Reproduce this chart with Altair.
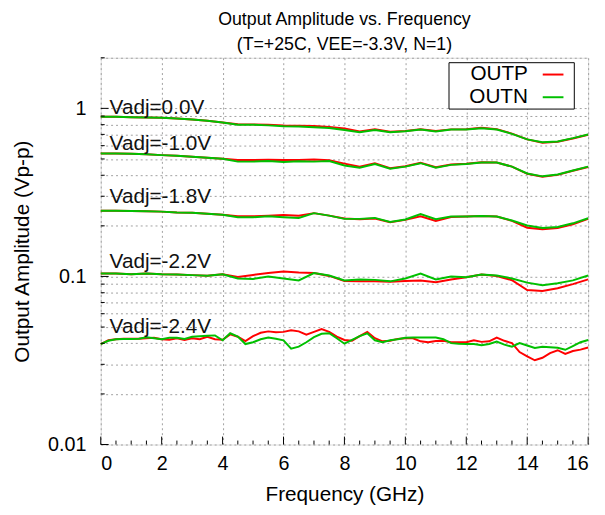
import altair as alt
import pandas as pd

# ---------------- data ----------------
freq_coarse = [0, 0.5, 1, 1.5, 2, 2.5, 3, 3.5, 4, 4.5, 5, 5.5, 6, 6.5, 7, 7.5, 8,
               8.5, 9, 9.5, 10, 10.5, 11, 11.5, 12, 12.5, 13, 13.5, 14, 14.5, 15, 15.5, 16]
freq_fine = [0, 0.25, 0.5, 0.75, 1, 1.25, 1.5, 1.75, 2, 2.25, 2.5, 2.75, 3, 3.25, 3.5, 3.75,
             4, 4.25, 4.5, 4.75, 5, 5.25, 5.5, 5.75, 6, 6.25, 6.5, 6.75, 7, 7.25, 7.5, 7.75,
             8, 8.25, 8.5, 8.75, 9, 9.25, 9.5, 9.75, 10, 10.25, 10.5, 10.75, 11, 11.25, 11.5, 11.75,
             12, 12.25, 12.5, 12.75, 13, 13.25, 13.5, 13.75, 14, 14.25, 14.5, 14.75, 15, 15.25, 15.5, 15.75, 16]

outp_0v0 = [0.891, 0.891, 0.886, 0.882, 0.879, 0.871, 0.859, 0.844, 0.825, 0.805, 0.803, 0.800, 0.792,
            0.788, 0.785, 0.775, 0.758, 0.728, 0.750, 0.725, 0.733, 0.750, 0.733, 0.750, 0.752, 0.766,
            0.752, 0.708, 0.654, 0.625, 0.633, 0.662, 0.697]
outn_0v0 = [0.891, 0.891, 0.886, 0.882, 0.879, 0.871, 0.859, 0.844, 0.825, 0.800, 0.800, 0.792, 0.782,
            0.779, 0.771, 0.764, 0.744, 0.721, 0.744, 0.721, 0.731, 0.748, 0.728, 0.748, 0.748, 0.761,
            0.748, 0.705, 0.654, 0.628, 0.636, 0.665, 0.699]

outp_1v0 = [0.539, 0.539, 0.537, 0.534, 0.527, 0.522, 0.515, 0.508, 0.502, 0.493, 0.493, 0.495, 0.493,
            0.493, 0.497, 0.491, 0.469, 0.450, 0.472, 0.440, 0.452, 0.474, 0.446, 0.463, 0.468, 0.478,
            0.476, 0.450, 0.408, 0.392, 0.402, 0.425, 0.448]
outn_1v0 = [0.539, 0.539, 0.537, 0.534, 0.527, 0.522, 0.515, 0.508, 0.502, 0.482, 0.482, 0.486, 0.480,
            0.484, 0.482, 0.486, 0.457, 0.444, 0.467, 0.438, 0.450, 0.472, 0.444, 0.461, 0.466, 0.476,
            0.476, 0.450, 0.410, 0.394, 0.404, 0.427, 0.450]

outp_1v8 = [0.246, 0.246, 0.245, 0.244, 0.243, 0.240, 0.239, 0.236, 0.233, 0.228, 0.228, 0.230, 0.232,
            0.230, 0.238, 0.230, 0.221, 0.219, 0.221, 0.210, 0.217, 0.228, 0.214, 0.226, 0.227, 0.229,
            0.227, 0.214, 0.195, 0.191, 0.194, 0.204, 0.220]
outn_1v8 = [0.246, 0.246, 0.245, 0.244, 0.243, 0.240, 0.239, 0.236, 0.233, 0.225, 0.225, 0.228, 0.225,
            0.223, 0.238, 0.230, 0.220, 0.220, 0.223, 0.211, 0.218, 0.235, 0.219, 0.227, 0.227, 0.229,
            0.227, 0.215, 0.201, 0.194, 0.197, 0.207, 0.222]

outp_2v2 = [0.104, 0.104, 0.103, 0.104, 0.103, 0.1027, 0.1018, 0.101, 0.103, 0.0993, 0.102, 0.1048,
            0.107, 0.1055, 0.1048, 0.1007, 0.094, 0.0935, 0.0935, 0.093, 0.094, 0.0947, 0.0923, 0.096,
            0.099, 0.1027, 0.1007, 0.095, 0.083, 0.082, 0.085, 0.090, 0.096]
outn_2v2 = [0.104, 0.104, 0.103, 0.104, 0.103, 0.1027, 0.1018, 0.101, 0.103, 0.0973, 0.0967, 0.100,
            0.0973, 0.0947, 0.1048, 0.1013, 0.0947, 0.096, 0.0954, 0.0935, 0.0973, 0.104, 0.096, 0.100,
            0.099, 0.1027, 0.1013, 0.0973, 0.0919, 0.0886, 0.091, 0.0947, 0.1013]

outp_2v4 = [0.0396, 0.0417, 0.0423, 0.0426, 0.0426, 0.0426, 0.0429, 0.0432, 0.0423, 0.042, 0.0429, 0.0419,
            0.0429, 0.0423, 0.0438, 0.0423,
            0.042, 0.0452, 0.0438, 0.0413, 0.0441, 0.0462, 0.0471, 0.0465, 0.0468, 0.0479, 0.0471, 0.045,
            0.0468, 0.0486, 0.0468, 0.0438,
            0.0419, 0.0414, 0.0441, 0.0468, 0.0429, 0.0411, 0.0414, 0.0425, 0.0429, 0.0429, 0.0411, 0.0406,
            0.0413, 0.0414, 0.0406, 0.0406,
            0.0406, 0.0417, 0.0408, 0.0411, 0.0433, 0.0414, 0.0401, 0.0355, 0.0335, 0.0317, 0.0328, 0.035,
            0.0364, 0.0346, 0.036, 0.0367, 0.0378]
outn_2v4 = [0.0396, 0.0414, 0.0423, 0.0425, 0.0425, 0.0426, 0.0435, 0.0429, 0.0423, 0.0432, 0.0432, 0.0425,
            0.0438, 0.0441, 0.0444, 0.0446,
            0.0417, 0.0459, 0.0439, 0.0396, 0.0406, 0.0423, 0.0433, 0.0426, 0.0417, 0.0372, 0.0382, 0.0406,
            0.0435, 0.0456, 0.0459, 0.0429,
            0.0398, 0.042, 0.0441, 0.0459, 0.0417, 0.0406, 0.0417, 0.0423, 0.0432, 0.0433, 0.0433, 0.0433,
            0.0433, 0.0423, 0.0401, 0.0398,
            0.0396, 0.0396, 0.039, 0.0396, 0.041, 0.0393, 0.0382, 0.0401, 0.0388, 0.0375, 0.0382, 0.0379,
            0.0376, 0.0366, 0.0385, 0.0406, 0.0419]

vadj_labels = ["Vadj=0.0V", "Vadj=-1.0V", "Vadj=-1.8V", "Vadj=-2.2V", "Vadj=-2.4V"]
vadj_label_amp = [1.0, 0.61, 0.295, 0.122, 0.050]

legend_labels = ["OUTP", "OUTN"]
legend_colors = ["#ff0000", "#00c000"]

x_tick_values = [0, 2, 4, 6, 8, 10, 12, 14, 16]
x_minor_ticks = [0.5, 1, 1.5, 2.5, 3, 3.5, 4.5, 5, 5.5, 6.5, 7, 7.5, 8.5, 9, 9.5,
                 10.5, 11, 11.5, 12.5, 13, 13.5, 14.5, 15, 15.5]
y_major_ticks = [0.01, 0.1, 1]
y_minor_ticks = [0.02, 0.03, 0.04, 0.05, 0.06, 0.07, 0.08, 0.09,
                 0.2, 0.3, 0.4, 0.5, 0.6, 0.7, 0.8, 0.9, 2]

# ---------------- tables ----------------
series = [
    ("Vadj=0.0V", "OUTP", freq_coarse, outp_0v0), ("Vadj=0.0V", "OUTN", freq_coarse, outn_0v0),
    ("Vadj=-1.0V", "OUTP", freq_coarse, outp_1v0), ("Vadj=-1.0V", "OUTN", freq_coarse, outn_1v0),
    ("Vadj=-1.8V", "OUTP", freq_coarse, outp_1v8), ("Vadj=-1.8V", "OUTN", freq_coarse, outn_1v8),
    ("Vadj=-2.2V", "OUTP", freq_coarse, outp_2v2), ("Vadj=-2.2V", "OUTN", freq_coarse, outn_2v2),
    ("Vadj=-2.4V", "OUTP", freq_fine, outp_2v4), ("Vadj=-2.4V", "OUTN", freq_fine, outn_2v4),
]
rows = []
for vadj, sig, fr, vals in series:
    for f, v in zip(fr, vals):
        rows.append({"vadj": vadj, "signal": sig, "freq": f, "amp": v})
df = pd.DataFrame(rows)

FONT = "Liberation Sans"
FS = 20
FT = 21
W, H = 494, 392

x_scale = alt.Scale(domain=[0, 16], nice=False, zero=False)
y_scale = alt.Scale(type="log", domain=[0.01, 2], nice=False)

x_axis = alt.Axis(values=x_tick_values, title="Frequency (GHz)", grid=True,
                  gridDash=[2, 3], gridColor="#a0a0a0", gridWidth=1,
                  ticks=False, domain=False, labelFontSize=FS, labelFont=FONT,
                  labelColor="black", labelPadding=9, titleFontSize=FT, titleFont=FONT,
                  titleFontWeight="normal", titleColor="black", titlePadding=11)
y_axis = alt.Axis(values=y_major_ticks + y_minor_ticks, title="Output Amplitude (Vp-p)",
                  grid=True, gridDash=[2, 3], gridColor="#a0a0a0", gridWidth=1,
                  ticks=False, domain=False, format="~g",
                  labelExpr="(datum.value == 0.01 || datum.value == 0.1 || datum.value == 1) ? datum.label : ''",
                  labelFontSize=FS, labelFont=FONT, labelColor="black", labelPadding=15,
                  titleFontSize=FT, titleFont=FONT, titleFontWeight="normal",
                  titleColor="black", titlePadding=15)

base = alt.Chart(df)
red = base.transform_filter(alt.datum.signal == "OUTP").mark_line(
    color=legend_colors[0], strokeWidth=2).encode(
    x=alt.X("freq:Q", scale=x_scale, axis=x_axis),
    y=alt.Y("amp:Q", scale=y_scale, axis=y_axis),
    detail="vadj:N")
green = base.transform_filter(alt.datum.signal == "OUTN").mark_line(
    color=legend_colors[1], strokeWidth=2).encode(
    x=alt.X("freq:Q"), y=alt.Y("amp:Q"), detail="vadj:N")

# inward ticks
ymaj = alt.Chart(pd.DataFrame({"amp": y_major_ticks})).mark_rule(color="black").encode(
    y="amp:Q", x=alt.value(0), x2=alt.value(8))
ymin = alt.Chart(pd.DataFrame({"amp": y_minor_ticks})).mark_rule(color="black").encode(
    y="amp:Q", x=alt.value(0), x2=alt.value(4))
xmaj = alt.Chart(pd.DataFrame({"freq": x_tick_values})).mark_rule(color="black").encode(
    x="freq:Q", y=alt.value(H), y2=alt.value(H - 8))
xmin = alt.Chart(pd.DataFrame({"freq": x_minor_ticks})).mark_rule(color="black").encode(
    x="freq:Q", y=alt.value(H), y2=alt.value(H - 4))

# curve annotations
annot = alt.Chart(pd.DataFrame({"label": vadj_labels, "amp": vadj_label_amp})).mark_text(
    align="left", baseline="middle", fontSize=FT, font=FONT, color="#111111").encode(
    x=alt.value(9), y="amp:Q", text="label:N")

# legend box
one = pd.DataFrame({"k": [0]})
leg_box = alt.Chart(one).mark_rect(fill="white", stroke="black", strokeWidth=1).encode(
    x=alt.value(353), x2=alt.value(480), y=alt.value(5), y2=alt.value(52))
leg_layers = []
for i, (lab, col) in enumerate(zip(legend_labels, legend_colors)):
    yy = 17 + 23 * i
    leg_layers.append(alt.Chart(pd.DataFrame({"label": [lab]})).mark_text(
        align="right", baseline="middle", fontSize=FT, font=FONT, color="black").encode(
        x=alt.value(433), y=alt.value(yy), text="label:N"))
    leg_layers.append(alt.Chart(one).mark_rule(color=col, strokeWidth=2).encode(
        x=alt.value(448), x2=alt.value(469), y=alt.value(yy)))

chart = alt.layer(red, green, ymaj, ymin, xmaj, xmin, annot, leg_box, *leg_layers).properties(
    width=W, height=H,
    title=alt.Title(["Output Amplitude vs. Frequency", "(T=+25C, VEE=-3.3V, N=1)"],
                    fontSize=18, font=FONT, fontWeight="normal", color="black",
                    anchor="middle", offset=3, lineHeight=26),
    autosize=alt.AutoSizeParams(type="none"),
    padding={"left": 94, "top": 47, "right": 9, "bottom": 68},
).configure_view(stroke="black", strokeWidth=1).configure(background="white")

chart.save("out.html", embed_options={"renderer": "svg", "actions": False})
